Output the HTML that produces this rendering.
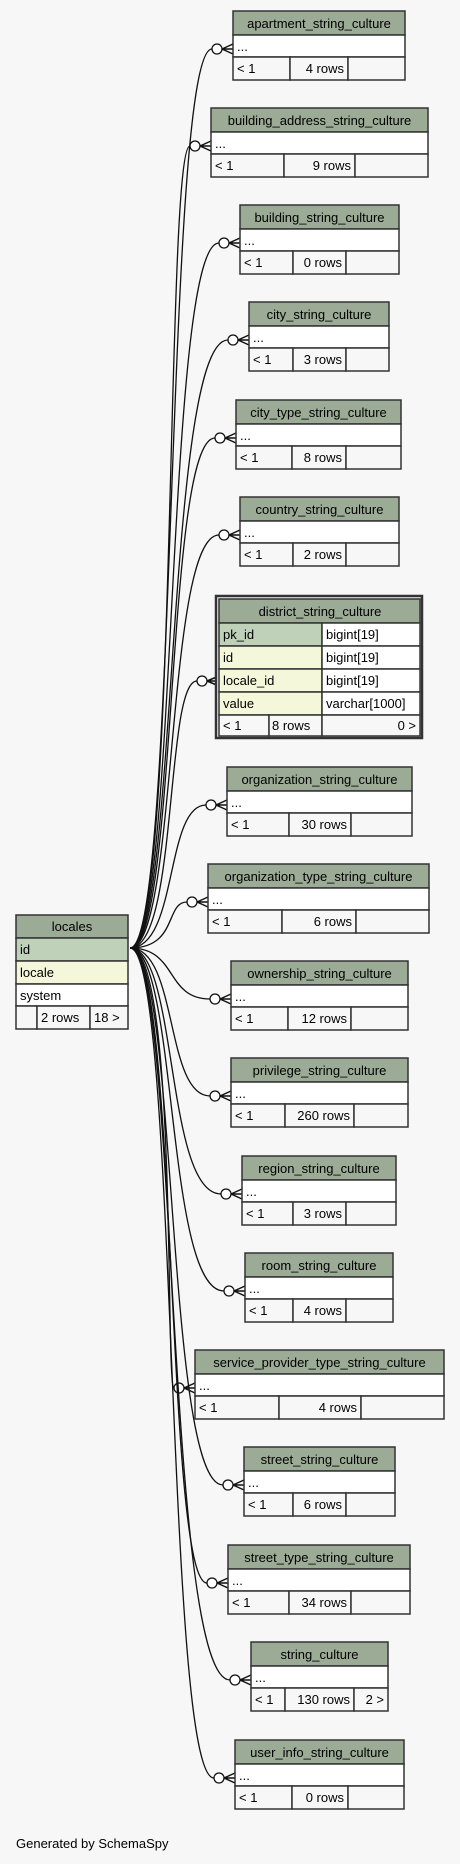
<!DOCTYPE html>
<html><head><meta charset="utf-8"><style>
html,body{margin:0;padding:0;background:#f7f7f7;width:460px;height:1864px;overflow:hidden}
svg{display:block}
text{font-family:"Liberation Sans",sans-serif;font-size:13px;fill:#000}
</style></head><body>
<svg id="s" width="460" height="1864" xmlns="http://www.w3.org/2000/svg"></svg>
<script>
var S=document.getElementById('s'),h='';
function r(x,y,w,hh,f,sw){h+='<rect x="'+x+'" y="'+y+'" width="'+w+'" height="'+hh+'" fill="'+f+'" stroke="#333" stroke-width="'+(sw||1.5)+'"/>';}
function t(x,y,s,a){h+='<text x="'+x+'" y="'+y+'"'+(a?' text-anchor="'+a+'"':'')+'>'+s+'</text>';}
var O=[130,948];
function conn(cx,cy,x1){
  h+='<path d="M'+O[0]+','+O[1]+' C178,'+O[1]+' 165,'+cy+' '+(cx-5)+','+cy+'" fill="none" stroke="#111" stroke-width="1.3"/>';
  h+='<circle cx="'+cx+'" cy="'+cy+'" r="5" fill="#fff" stroke="#111" stroke-width="1.3"/>';
  h+='<path d="M'+(cx+5)+','+cy+' L'+x1+','+(cy-5)+' M'+(cx+5)+','+cy+' L'+x1+','+cy+' M'+(cx+5)+','+cy+' L'+x1+','+(cy+5)+'" stroke="#111" stroke-width="1.5" fill="none"/>';
}
var T=[
["apartment_string_culture",233,405,11,290,348,"4 rows",""],
["building_address_string_culture",211,428,108,284,355,"9 rows",""],
["building_string_culture",240,399,205,293,346,"0 rows",""],
["city_string_culture",249,389,302,293,346,"3 rows",""],
["city_type_string_culture",236,401,400,292,346,"8 rows",""],
["country_string_culture",240,399,497,293,346,"2 rows",""],
["organization_string_culture",227,412,767,289,351,"30 rows",""],
["organization_type_string_culture",208,429,864,282,356,"6 rows",""],
["ownership_string_culture",231,408,961,288,351,"12 rows",""],
["privilege_string_culture",231,408,1058,285,354,"260 rows",""],
["region_string_culture",242,396,1156,293,346,"3 rows",""],
["room_string_culture",245,393,1253,293,346,"4 rows",""],
["service_provider_type_string_culture",195,444,1350,279,361,"4 rows",""],
["street_string_culture",244,395,1447,293,346,"6 rows",""],
["street_type_string_culture",228,410,1545,289,351,"34 rows",""],
["string_culture",251,388,1642,285,354,"130 rows","2 &gt;"],
["user_info_string_culture",235,404,1740,292,348,"0 rows",""]
];
T.forEach(function(a){conn(a[1]-16,a[3]+38,a[1]);});
conn(202,681,219);
T.forEach(function(a){
  var x=a[1],X=a[2],y=a[3],w=X-x;
  r(x,y,w,24,"#9cab96");t((x+X)/2,y+17,a[0],"middle");
  r(x,y+24,w,22,"#fff");t(x+4,y+40,"...");
  r(x,y+46,a[4]-x,23,"#f7f7f7");r(a[4],y+46,a[5]-a[4],23,"#f7f7f7");r(a[5],y+46,X-a[5],23,"#f7f7f7");
  t(x+4,y+62,"&lt; 1");t(a[5]-4,y+62,a[6],"end");
  if(a[7])t(X-4,y+62,a[7],"end");
});
r(216,596,206,142,"#f7f7f7",2.5);
r(219,599,201,24,"#9cab96");t(320,616,"district_string_culture","middle");
var rows=[["pk_id","#bfd1b9","bigint[19]"],["id","#f4f7da","bigint[19]"],["locale_id","#f4f7da","bigint[19]"],["value","#f4f7da","varchar[1000]"]];
rows.forEach(function(q,i){var y=623+i*23;r(219,y,103,23,q[1]);r(322,y,98,23,"#fff");t(223,y+16,q[0]);t(326,y+16,q[2]);});
r(219,715,50,21,"#f7f7f7");r(269,715,53,21,"#f7f7f7");r(322,715,98,21,"#f7f7f7");
t(223,730,"&lt; 1");t(272,730,"8 rows");t(416,730,"0 &gt;","end");
r(16,915,112,23,"#9cab96");t(72,931,"locales","middle");
r(16,938,112,23,"#bfd1b9");t(20,954,"id");
r(16,961,112,23,"#f4f7da");t(20,977,"locale");
r(16,984,112,22,"#fff");t(20,1000,"system");
r(16,1006,21,23,"#f7f7f7");r(37,1006,53,23,"#f7f7f7");r(90,1006,38,23,"#f7f7f7");
t(41,1022,"2 rows");t(94,1022,"18 &gt;");
t(16,1848,"Generated by SchemaSpy");
S.innerHTML=h;
</script>
</body></html>
